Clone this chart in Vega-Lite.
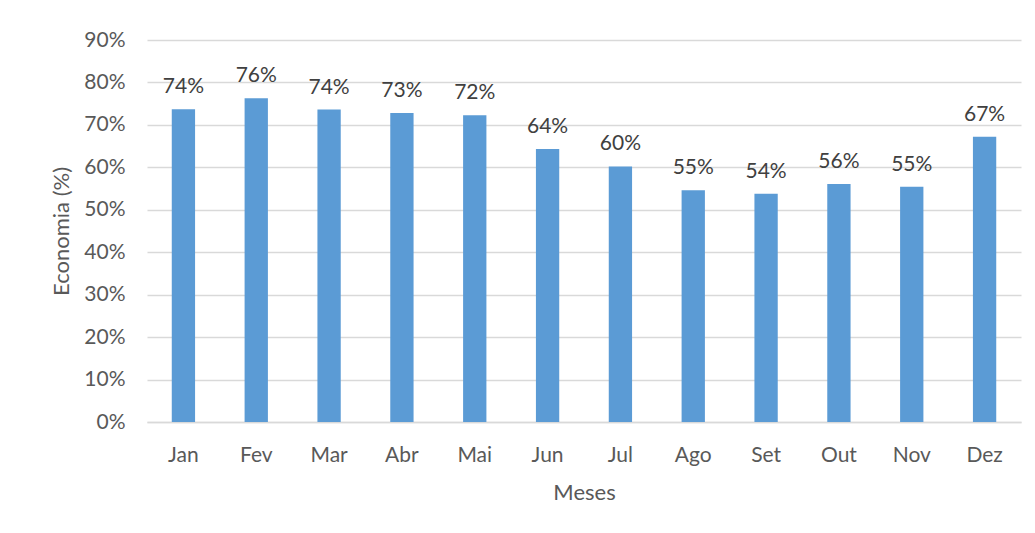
{
  "$schema": "https://vega.github.io/schema/vega-lite/v6.json",
  "width": 874,
  "height": 382,
  "autosize": {"type": "none"},
  "padding": {"left": 147, "top": 40, "right": 14, "bottom": 111},
  "background": "white",
  "config": {"view": {"stroke": null}, "font": "Lato"},
  "data": {"values": [
    {"mes": "Jan", "economia": 0.737},
    {"mes": "Fev", "economia": 0.763},
    {"mes": "Mar", "economia": 0.736},
    {"mes": "Abr", "economia": 0.728},
    {"mes": "Mai", "economia": 0.723},
    {"mes": "Jun", "economia": 0.643},
    {"mes": "Jul", "economia": 0.602},
    {"mes": "Ago", "economia": 0.546},
    {"mes": "Set", "economia": 0.538},
    {"mes": "Out", "economia": 0.561},
    {"mes": "Nov", "economia": 0.554},
    {"mes": "Dez", "economia": 0.672}
  ]},
  "encoding": {
    "x": {
      "field": "mes", "type": "nominal", "sort": null,
      "scale": {"paddingInner": 0.68, "paddingOuter": 0.34},
      "axis": {
        "title": "Meses", "labelAngle": 0, "ticks": false,
        "domainColor": "#d9d9d9", "domainWidth": 1.5,
        "labelFontSize": 21, "labelColor": "#595959", "labelPadding": 22,
        "titleFontSize": 22, "titleFontWeight": "normal", "titleColor": "#595959", "titlePadding": 17
      }
    },
    "y": {
      "field": "economia", "type": "quantitative",
      "scale": {"domain": [0, 0.9]},
      "axis": {
        "title": "Economia (%)", "format": ".0%", "values": [0,0.1,0.2,0.3,0.4,0.5,0.6,0.7,0.8,0.9],
        "domain": false, "ticks": false,
        "gridColor": "#d9d9d9", "gridWidth": 1.5,
        "labelFontSize": 21, "labelColor": "#595959", "labelPadding": 22,
        "titleFontSize": 22, "titleFontWeight": "normal", "titleColor": "#595959", "titlePadding": 10
      }
    }
  },
  "layer": [
    {"mark": {"type": "bar", "color": "#5b9bd5"}},
    {
      "mark": {"type": "text", "baseline": "bottom", "dy": -12, "fontSize": 21, "color": "#404040"},
      "encoding": {"text": {"field": "economia", "type": "quantitative", "format": ".0%"}}
    }
  ]
}
